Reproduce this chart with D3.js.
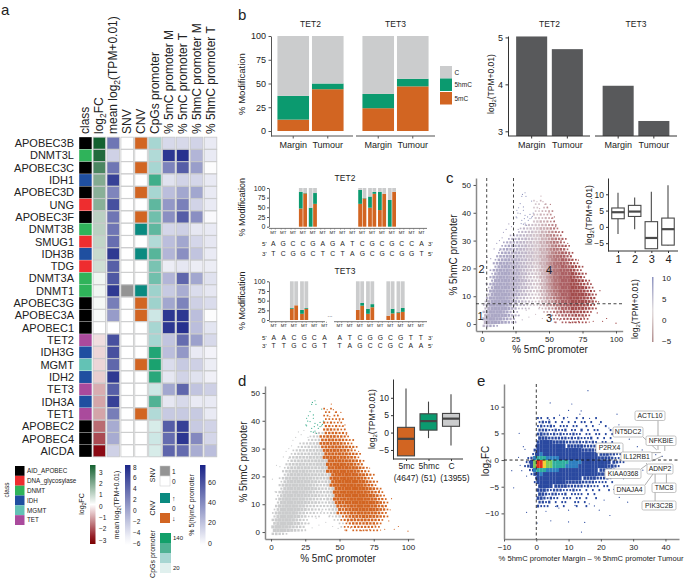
<!DOCTYPE html>
<html lang="en">
<head>
<meta charset="utf-8">
<title>TET / 5hmC figure</title>
<script src="https://d3js.org/d3.v7.min.js"></script>
<style>
  body { margin: 0; background: #fff; }
  text { font-family: "Liberation Sans", Arial, sans-serif; fill: #222; }
</style>
</head>
<body>
<svg id="fig" width="685" height="583"></svg>
<script>
// ---- panel a
const genes = ["APOBEC3B","DNMT3L","APOBEC3C","IDH1","APOBEC3D","UNG","APOBEC3F","DNMT3B","SMUG1","IDH3B","TDG","DNMT3A","DNMT1","APOBEC3G","APOBEC3A","APOBEC1","TET2","IDH3G","MGMT","IDH2","TET3","IDH3A","TET1","APOBEC2","APOBEC4","AICDA"];
const classNames = ["AID_APOBEC","DNA_glycosylase","DNMT","IDH","MGMT","TET"];
const classColors = ["#000000","#ee2d2f","#2fb35a","#1f4fa0","#63c2b5","#aa4a9c"];
const geneClass = [0,2,0,3,0,1,0,2,1,3,1,2,2,0,0,0,5,3,4,3,5,3,5,0,0,0];
const log2FC = [3.4,3.2,2.6,1.8,1.7,1.7,1.0,1.0,0.9,0.8,0.7,0.2,0.2,0.15,0.1,0,-0.4,-0.5,-0.5,-0.6,-1,-1.1,-1.1,-1.8,-2.2,-3];
const meanExpr = [3,-3,3,6.5,2,5.5,3,3,3.5,7,4.5,5,7,2.5,0.5,-6,5.5,5.5,4,7,4.5,6.5,2.5,-0.5,-0.5,-3];
const snv = [0,0,0,0,0,0,0,0,0,0,0,0,1,0,0,0,0,0,0,0,0,0,0,0,0,0];
const cnv = [-1,0,-1,0,-1,0,-1,1,0,1,0,0,1,-1,-1,0,0,0,-1,0,0,0,-1,0,0,0];
const cpgs = [50,45,50,110,50,90,80,90,45,95,75,80,55,55,30,50,50,130,135,125,30,100,45,25,30,25];
const mC_M = [13,68,42,10,22,35,38,14,22,25,6,25,18,30,68,68,20,22,12,8,30,8,18,55,50,52];
const mC_T = [13,70,55,15,30,43,55,16,30,38,8,52,28,42,68,70,50,35,18,15,52,13,18,65,68,50];
const hmC_M = [15,25,33,14,30,15,38,8,14,20,6,30,12,16,22,22,32,7,16,10,20,7,18,18,40,28];
const hmC_T = [7,7,1,7,7,7,2,7,8,7,6,10,8,12,1,9,13,4,6,5,16,7,7,15,14,22];
const headers = ["class","log2FC","mean log2(TPM+0.01)","SNV","CNV","CpGs promoter","% 5mC promoter M","% 5mC promoter T","% 5hmC promoter M","% 5hmC promoter T"];

// ---- panel b
const stackGroups = ["Margin","Tumour"];
const tet2_5mC = [12,44], tet2_5hmC = [25,6];
const tet3_5mC = [24,47], tet3_5hmC = [15,8];
const tet2_tpm = [5.02,4.75], tet3_tpm = [3.97,3.22];

// per CpG site: position, then margin and tumour values
const tet2Top = "AGCCGAGATCGCGCCA".split(""), tet2Bottom = "TCGGCTCTAGCGCGGT".split("");
const tet2Sites = [3,4,9,10,11,12];
const tet2M5mC = [47,0,59,49,43,0], tet2M5hmC = [43,49,36,29,47,69];
const tet2T5mC = [86,59,73,85,85,90], tet2T5hmC = [1,28,1,5,0,0];
const tet3Top = "AACGCAATCGGCGTT".split(""), tet3Bottom = "TTGCGTTAGCCGCAA".split("");
const tet3Pos = [0,1,2,3,4,5,6.5,7.5,8.5,9.5,10.5,11.5,12.5,13.5,14.5];
const tet3Sites = [2,3,8.5,9.5,11.5,12.5];
const tet3M5mC = [29,16,26,16,11,19], tet3M5hmC = [2,10,0,13,0,2];
const tet3T5mC = [38,29,37,33,17,21], tet3T5hmC = [0,2,7,8,12,10];

const promoterDensity = [
"00000 00000 00000 10100",
"00000 00000 00000 11010",
"00000 00000 00000 11011",
"00000 00000 00000 11111 1",
"00000 00000 00000 21211 1",
"00000 00000 00000 22121 1",
"00000 00000 00000 23322 11",
"00000 00000 00122 33332 21",
"00000 00000 01223 34443 321",
"00000 00000 12234 45544 3211",
"00000 00012 23344 55555 43210",
"00000 00122 33444 55665 54321",
"00000 01233 34445 56666 55421",
"00000 12343 44555 66666 65432 1",
"00000 23444 45555 66776 66543 1",
"00001 34455 55566 67777 76654 21",
"00002 44565 55566 67778 87765 32",
"00013 55666 65556 67788 88776 421",
"00024 66767 65555 56788 88877 5321",
"00025 77777 66555 46688 89887 65321",
"00136 77877 76554 45688 89988 76421",
"00147 88887 76543 45688 99998 87532 1",
"00257 88888 76543 34678 89999 88643 1",
"00268 88888 77543 33578 89999 98754 21",
"01378 88988 76544 34578 89999 98865 321",
"01489 88887 65543 33578 88999 99876 421",
"01589 98887 65433 24467 78899 99877 5321",
"02689 98886 54432 23457 67889 99988 6421",
"03789 99876 43322 22356 56788 99887 6432",
"14899 99865 33221 12345 45677 88877 6431",
"15899 99754 22211 11234 34566 77766 54210",
"26999 98643 11110 01123 23455 56655 43210",
"37999 97532 10000 00011 12344 45544 3210",
"48999 86532 10000 00001 11233 33433 2100",
"69998 75432 00000 00000 11112 22222 1100",
"89987 54321 00000 00000 01011 11111 10",
"34321"];
// expression level by x column for the colouring in c
const exprByCol = [4,5,6,6,6,6,6,6,5,5,5,4,4,3,3,2,2,1,1,0,-1,-2,-2,-3,-3,-3,-4,-4,-4,-4,-4,-4,-4,-4,-4,-4];
// first orange column for each row of the table, panel d
const orangeFromCol = [15,15,15,15,15,15,15,15,14,14,14,14,15,15,15,16,16,16,16,17,17,17,17,18,18,18,18,18,19,19,19,20,20,21,21,21,21];
const fringePts = [[88,12],[100,0.3],[90,1],[86,4],[83,1],[80,0.7],[69,0.7],[54,0.7],[49,1.3],[56,3.7],[64,2],[61,5],[76,2.5],[54,38.5],[54,37],[45.5,44],[48.7,42],[43,41.5],[20,36],[22,35],[16,33],[13,30],[13,26.5],[6.5,23.5],[3,14.5],[84,7],[82,9],[78,13],[75,15.5],[73,17],[70,21],[67,23],[65,25],[62,28],[59,30],[57,33],[55,35],[52,38],[50,40],[47,43],[41,44],[93,2],[72,1],[66,0.5],[58,1.5],[45,2],[40,3.5],[35,2.5],[30,1.5],[27,3],[33,5],[43,6],[37,7.5],[25,1],[1,19],[4,24],[9,27],[11,29],[15,31],[18,34],[24,36.5],[27,34],[51,43],[44,46],[60,33],[64,29],[72,23],[79,15],[87,8],[81,12]];
const hmcGroupPts = [[32.1,47.2],[30.2,46.6],[29.7,45.9],[32.8,45.9],[37,44.2],[28.5,43.3],[27.3,41.8],[26,40.9],[30.9,40.9],[30.9,42.1],[26.8,39.9],[28.5,39.7],[25.5,38.5],[32.1,39.1],[35.8,39.4],[38.2,39.9],[37.5,38.7],[34,38.5],[31.6,37.9],[29.7,37.3],[34.5,37.3],[32.1,36.3],[30.9,35.9],[33.3,35.5],[35.8,37.9],[37,38.2],[29.2,36.1],[26,38.2]];
// quartile tables of the inset boxes: low, q1, median, q3, high
const clusterNames = ["1","2","3","4"];
const clusterBoxes = [[-2.2,2.5,4.5,5.8,10.5],[-0.7,3.2,4.7,6.6,9],[-6.7,-6.7,-3.4,1.6,10.8],[-5.7,-5.6,-0.7,2.7,12.8]];
const modNames = ["5mc","5hmc","C"];
const modCounts = ["(4647)","(51)","(13955)"];
const modBoxes = [[-6.7,-6.7,-1.8,1.5,12.7],[-1.6,0.7,3.3,5.4,8.9],[-3.7,1.8,4,5.5,11]];

// ---- panel e, 1 x 0.75 density table: 1-4 blue, 5 light blue, 6 teal, 7 green, 8 yellow, 9 red
const maDensity = [
"00001 10101 00100 01010 00100",
"00001 21201 01010 10110 10010",
"00001 21121 01110 11001 01000 1",
"00002 22112 11201 10201 01100 01",
"00002 32212 12111 21101 10110 101",
"00003 33222 22212 12111 20101 01",
"00003 44443 33322 22212 12101 101",
"00014 44444 44433 33322 22121 1101",
"00024 44444 44444 44433 33222 2111",
"00134 54444 44444 44444 44433 32211",
"01256 66555 54444 44444 44433 33211",
"12479 98776 66665 55544 44444 44321 1",
"12479 98776 66655 55444 44444 43321",
"01256 66555 54444 44444 44433 33211",
"00134 54444 44444 44444 44433 32101",
"00024 44444 44444 44433 33222 21",
"00014 44444 44433 33322 22111 101",
"00003 44443 33322 22212 11101 1",
"00003 33212 22111 21101 01010 01",
"00003 32122 11201 11101 01",
"00003 32121 10111 01101 001",
"00002 21201 01100 11010",
"00002 11100 10100 01001"];
const maOutliers = [[16,13],[4.3,10.7],[11,10.5],[10,9.3],[13.9,9.2],[25,8.6],[-5.3,5],[-7.6,-2],[-7,-5.2],[-3,-9.8],[4.5,-11.4],[10,-11.6],[14,-13.5],[15,-11.7],[22.8,-10.4],[19.5,-9.4],[16.4,-8.2],[10,-9.4],[7,-9],[3,-9.6],[0.3,-11.8],[7.2,8.4],[8.5,7.7],[16.5,7.8],[13.5,8.6],[9.7,8],[4,7.6],[19.5,6.7],[22.5,6],[25.6,6.6],[26.7,4.5],[28.8,3.9],[31.3,2.5],[32.8,1.9],[37,1],[39,0.7],[-3.5,2],[-4,2.5],[-5,-1],[33,-1.9],[31.3,-3.1],[28.8,-5],[25.7,-7],[28.3,-7.9],[18,-8.6],[21,-7.5],[6,-8.7],[12,-8.5],[24,-5.5],[27,-3.5],[-5.5,0.5],[-4.5,-2],[-3,-3]];
const maLabels = ["ACTL10","NT5DC2","NFKBIE","P2RX4","IL12RB1","ADNP2","KIAA0368","DNAJA4","TMC8","PIK3C2B"];
const maTargetX = [37.7,37.3,39.8,38.6,39,34,34.4,37,40.3,36.8];
const maTargetY = [1.9,1.9,1.7,1.4,0.75,-0.6,-0.8,-1.9,-0.9,-1.6];

// ---- colours
const ORANGE = "#d26522", GREEN = "#0b9a6f", LIGHT = "#cbcccd", DARK = "#58595b", AXGREY = "#8a8a8a";
const fcColor = d3.scaleLinear().domain([-3,0,3.5]).range(["#8b0a14","#ffffff","#0d5c2a"]);
const meanColor = d3.scaleLinear().domain([-6,8]).range(["#ffffff","#1f2a8a"]);
const cpgColor = d3.scaleLinear().domain([20,50,90,140]).range(["#e0f0ee","#a7d6d2","#5fb79f","#12a06a"]);
const modColor = d3.scaleLinear().domain([0,70]).range(["#ffffff","#27318f"]);
const cnvColor = v => v > 0 ? "#0a8a80" : v < 0 ? ORANGE : "#ffffff";
const exprColor = d3.scaleLinear().domain([-5,2,12]).range(["#8b1616","#cdbcc4","#5562b0"]);
const maFill = ["none","#2a4aa0","#2a4aa0","#2a4aa0","#2a4aa0","#2f7fc0","#2fae9f","#7ccb5a","#f5d033","#e0301e"];
const maSide = [0,0.5,0.68,0.85,1,1,1,1,1,1];

const svg = d3.select("#fig");
const defs = svg.append("defs");
defs.append("filter").attr("id","soft").append("feGaussianBlur").attr("stdDeviation",0.5);

function label(x, y, str, size, anchor) {
  return svg.append("text").attr("x",x).attr("y",y).attr("font-size",size)
    .attr("text-anchor",anchor || "start").text(str);
}
function vlabel(x, y, str, size, anchor) {
  return svg.append("text").attr("transform","translate("+x+","+y+") rotate(-90)")
    .attr("font-size",size).attr("text-anchor",anchor || "middle").text(str);
}
// rotated text with a subscript 2, as in log2(...)
function subLabel(x, y, before, after, size, anchor) {
  const t = svg.append("text").attr("transform","translate("+x+","+y+") rotate(-90)")
    .attr("font-size",size).attr("text-anchor",anchor || "middle");
  t.append("tspan").text(before);
  t.append("tspan").attr("font-size",size*0.7).attr("dy",size*0.22).text("2");
  t.append("tspan").attr("dy",-size*0.22).text(after);
  return t;
}
function axis(gen, tx, ty, color, width, size) {
  const g = svg.append("g").attr("transform","translate("+tx+","+ty+")").call(gen);
  g.select(".domain").attr("stroke",color).attr("stroke-width",width);
  g.selectAll(".tick line").attr("stroke",color === AXGREY ? "#555" : color);
  g.selectAll(".tick text").attr("font-size",size).attr("fill","#222")
    .attr("font-family",'"Liberation Sans", Arial, sans-serif');
  return g;
}
function gradientBar(id, color, domain, x, y0, y1, w) {
  const grad = defs.append("linearGradient").attr("id",id).attr("x1",0).attr("x2",0).attr("y1",1).attr("y2",0);
  d3.range(11).forEach(i => {
    grad.append("stop").attr("offset",i/10).attr("stop-color",color(domain[0]+(domain[1]-domain[0])*i/10));
  });
  svg.append("rect").attr("x",x).attr("y",y0).attr("width",w).attr("height",y1-y0).attr("fill","url(#"+id+")");
}
const minusFmt = d => d < 0 ? "\u2212"+(-d) : d;

// panel letters
[["a",1,15],["b",238,20],["c",446,183],["d",238,386],["e",477,386]].forEach(d => label(d[1],d[2],d[0],15));

// ================= a: heatmap
const colX = d3.scaleBand().domain(headers).range([78.5,217.5]).paddingInner(0.1).paddingOuter(0.05);
const rowY = d3.scaleBand().domain(genes).range([136.8,457.2]).padding(0.03);
const columns = [
  { fill: (v,i) => classColors[geneClass[i]], vals: geneClass, border: false },
  { fill: v => fcColor(v), vals: log2FC },
  { fill: v => meanColor(v), vals: meanExpr },
  { fill: v => v ? "#949494" : "#fff", vals: snv },
  { fill: v => cnvColor(v), vals: cnv },
  { fill: v => cpgColor(v), vals: cpgs },
  { fill: v => modColor(v), vals: mC_M },
  { fill: v => modColor(v), vals: mC_T },
  { fill: v => modColor(v), vals: hmC_M },
  { fill: v => modColor(v), vals: hmC_T }
];
columns.forEach((c,ci) => {
  svg.append("g").selectAll("rect").data(c.vals).join("rect")
    .attr("x",colX(headers[ci])).attr("y",(d,i) => rowY(genes[i]))
    .attr("width",colX.bandwidth()).attr("height",rowY.bandwidth())
    .attr("fill",(d,i) => c.fill(d,i))
    .attr("stroke",c.border === false ? "none" : "#c6c7c8").attr("stroke-width",0.8);
});
svg.append("g").selectAll("text").data(genes).join("text")
  .attr("x",74).attr("y",d => rowY(d)+rowY.bandwidth()/2).attr("dy","0.36em")
  .attr("text-anchor","end").attr("font-size",11).text(d => d);
headers.forEach(h => {
  const x = colX(h)+colX.bandwidth()/2+4;
  if (h === "log2FC") subLabel(x,134,"log","FC",12,"start");
  else if (h.startsWith("mean")) subLabel(x,134,"mean log","(TPM+0.01)",12,"start");
  else vlabel(x,134,h,12,"start");
});

// a: legends
vlabel(9,490,"class",6.5);
const classY = d3.scaleBand().domain(classNames).range([466,525]);
svg.append("g").selectAll("rect").data(classNames).join("rect")
  .attr("x",15).attr("y",d => classY(d)).attr("width",9.5).attr("height",classY.bandwidth())
  .attr("fill",(d,i) => classColors[i]);
svg.append("g").selectAll("text").data(classNames).join("text")
  .attr("x",27).attr("y",d => classY(d)+classY.bandwidth()/2).attr("dy","0.36em")
  .attr("font-size",6.3).text(d => d);

gradientBar("gFc",fcColor,[-3.4,3.4],90,465,544,5.5);
const fcLeg = d3.scaleLinear().domain([-3,3]).range([540,472]);
axis(d3.axisRight(fcLeg).tickValues([-3,-2,-1,0,1,2,3]).tickSize(0).tickPadding(3).tickFormat(minusFmt),96,0,"none",0,6.5);
subLabel(84,504,"log","FC",7);

gradientBar("gMean",meanColor,[-6.5,8.2],125,465,545,5.5);
const meanLeg = d3.scaleLinear().domain([-6,8]).range([543,467]);
axis(d3.axisRight(meanLeg).tickValues([-6,-4,-2,0,2,4,6,8]).tickSize(0).tickPadding(2).tickFormat(minusFmt),131,0,"none",0,6.5);
subLabel(119,505,"mean log","(TPM+0.01)",7);

vlabel(155,475,"SNV",7);
[[466,"#949494"],[476,"#fff"]].forEach(d => svg.append("rect").attr("x",160).attr("y",d[0]).attr("width",10).attr("height",10)
  .attr("fill",d[1]).attr("stroke","#c6c7c8").attr("stroke-width",0.5));
label(172,473.5,"1",6.5); label(172,483.5,"0",6.5);
vlabel(155,508,"CNV",7);
[[1,493],[0,503],[-1,513]].forEach(d => svg.append("rect").attr("x",160).attr("y",d[1]).attr("width",10).attr("height",10)
  .attr("fill",cnvColor(d[0])));
label(172,500.5,"\u2191",7); label(172,510.5,"0",6.5); label(172,520.5,"\u2193",7);
vlabel(155,554,"CpGs promoter",7);
[[140,533],[100,543],[50,553],[20,563]].forEach(d => svg.append("rect").attr("x",160).attr("y",d[1]).attr("width",11).attr("height",10)
  .attr("fill",cpgColor(d[0])));
label(173,540,"140",6); label(173,570,"20",6);

gradientBar("gMod",modColor,[0,75],200,465,545,5.5);
const modLeg = d3.scaleLinear().domain([0,60]).range([543,482]);
axis(d3.axisRight(modLeg).tickValues([0,20,40,60]).tickSize(0).tickPadding(3),205,0,"none",0,7);
vlabel(194,505,"% 5(h)mC promoter",7);

// ================= b: stacked bars
const pctY = d3.scaleLinear().domain([-5.26,100]).range([136,36]);
[["TET2",tet2_5mC,tet2_5hmC,[274.5,346.5],[271,353]],["TET3",tet3_5mC,tet3_5hmC,[359.5,431.5],[356,435]]].forEach(f => {
  const x = d3.scaleBand().domain(stackGroups).range(f[3]).padding(0.085);
  stackGroups.forEach((g,i) => {
    const a = f[1][i], b = f[1][i]+f[2][i];
    [[0,a,ORANGE],[a,b,GREEN],[b,100,LIGHT]].forEach(s => {
      svg.append("rect").attr("x",x(g)).attr("width",x.bandwidth())
        .attr("y",pctY(s[1])).attr("height",pctY(s[0])-pctY(s[1])).attr("fill",s[2]);
    });
  });
  const gx = axis(d3.axisBottom(x).tickSize(2.5).tickSizeOuter(0).tickPadding(3),0,136,AXGREY,1.5,9);
  gx.select(".domain").attr("d","M"+f[4][0]+",0H"+f[4][1]);
  label((f[3][0]+f[3][1])/2,27,f[0],8.5,"middle");
});
axis(d3.axisLeft(pctY).tickValues([0,25,50,75,100]).tickSize(2.5).tickSizeOuter(0).tickPadding(2.5),271,0,"#555",1,9);
vlabel(245,84,"% Modification",9.5);
[["C",LIGHT,66],["5hmC",GREEN,78.5],["5mC",ORANGE,92]].forEach(d => {
  svg.append("rect").attr("x",440).attr("y",d[2]).attr("width",12).attr("height",12.5).attr("fill",d[1]);
  label(454.5,d[2]+8.5,d[0],6.5);
});

// b: TPM bars
const tpmY = d3.scaleLinear().domain([2.9,5.03]).range([136,36]);
[["TET2",tet2_tpm,[511.5,587.5],[509,590]],["TET3",tet3_tpm,[598,674],[595,677]]].forEach(f => {
  const x = d3.scaleBand().domain(stackGroups).range(f[2]).padding(0.13);
  svg.append("g").selectAll("rect").data(f[1]).join("rect")
    .attr("x",(d,i) => x(stackGroups[i])).attr("width",x.bandwidth())
    .attr("y",d => tpmY(d)).attr("height",d => tpmY(2.9)-tpmY(d)).attr("fill",DARK);
  const gx = axis(d3.axisBottom(x).tickSize(2.5).tickSizeOuter(0).tickPadding(3),0,136,"#333",1,9);
  gx.select(".domain").attr("d","M"+f[3][0]+",0H"+f[3][1]);
  label((f[2][0]+f[2][1])/2,27,f[0],8.5,"middle");
});
axis(d3.axisLeft(tpmY).tickValues([3,4,5]).tickFormat(d3.format("d")).tickSize(2.5).tickSizeOuter(0).tickPadding(2.5),508,0,"#333",1,9);
subLabel(494,84,"log","(TPM+0.01)",8.5);

// ================= b: per-site bars
function sitePanel(opt) {
  const y = d3.scaleLinear().domain([0,100]).range([opt.y0,opt.y100]);
  const pos = opt.xpos;
  const barW = 3.75;
  opt.sites.forEach((s,i) => {
    [[opt.m5mC[i],opt.mHm[i],-barW-0.3],[opt.t5mC[i],opt.tHm[i],0.3]].forEach(b => {
      const x = pos(s)+b[2];
      [[0,b[0],ORANGE],[b[0],b[0]+b[1],GREEN],[b[0]+b[1],100,LIGHT]].forEach(p => {
        svg.append("rect").attr("x",x).attr("width",barW)
          .attr("y",y(p[1])).attr("height",y(p[0])-y(p[1])).attr("fill",p[2]);
      });
    });
  });
  axis(d3.axisLeft(y).tickValues([0,25,50,75,100]).tickSize(2).tickSizeOuter(0).tickPadding(1.5),269,0,"#555",0.8,7);
  opt.segments.forEach(s => svg.append("line").attr("x1",s[0]).attr("x2",s[1])
    .attr("y1",opt.y0+1.7).attr("y2",opt.y0+1.7).attr("stroke","#666").attr("stroke-width",0.9));
  opt.marks.forEach(k => {
    label(pos(k),opt.y0+7,"MT",4.4,"middle");
    [-2,2].forEach(d => svg.append("line").attr("x1",pos(k)+d).attr("x2",pos(k)+d)
      .attr("y1",opt.y0+1.7).attr("y2",opt.y0+3).attr("stroke","#666").attr("stroke-width",0.5));
  });
  label(345,opt.titleY,opt.title,8.5,"middle");
  vlabel(245,(opt.y0+opt.y100)/2,"% Modification",9);
  opt.top.forEach((c,i) => label(pos(opt.marks[i]),opt.seqY,c,6.8,"middle"));
  opt.bottom.forEach((c,i) => label(pos(opt.marks[i]),opt.seqY+opt.seqGap,c,6.8,"middle"));
  label(262,opt.seqY,"5'",6.2); label(262,opt.seqY+opt.seqGap,"3'",6.2);
  label(428,opt.seqY,"3'",6.2); label(428,opt.seqY+opt.seqGap,"5'",6.2);
}
sitePanel({ title:"TET2", titleY:181, y0:226.7, y100:188, seqY:246, seqGap:9.5,
  xpos:d3.scaleLinear().domain([0,15]).range([273.3,421.6]),
  sites:tet2Sites, m5mC:tet2M5mC, mHm:tet2M5hmC, t5mC:tet2T5mC, tHm:tet2T5hmC,
  segments:[[269,427]], marks:d3.range(16), top:tet2Top, bottom:tet2Bottom });
sitePanel({ title:"TET3", titleY:274, y0:320, y100:281.3, seqY:339.5, seqGap:8.5,
  xpos:d3.scaleLinear().domain([0,14.5]).range([273.7,420.9]),
  sites:tet3Sites, m5mC:tet3M5mC, mHm:tet3M5hmC, t5mC:tet3T5mC, tHm:tet3T5hmC,
  segments:[[269,325],[334,427]], marks:tet3Pos, top:tet3Top, bottom:tet3Bottom });
label(330,317,"...",6,"middle");

// ================= c and d: shared cloud, table cells drawn as halftone squares
function cloud(g, x, y, cellFill) {
  const cells = [];
  promoterDensity.forEach((row,r) => {
    row.replace(/ /g,"").split("").forEach((ch,c) => {
      if (ch !== "0") cells.push({ r:r, c:c, n:+ch, x0:c*2.5, y0:43.75-r*1.25 });
    });
  });
  const w = x(2.5)-x(0), h = y(0)-y(1.25);
  const side = n => Math.pow(n/9,0.35);
  g.selectAll("rect").data(cells).join("rect")
    .attr("x",d => x(d.x0)+(d.r%2)*w/2+w/2-w*side(d.n)/2)
    .attr("y",d => y(d.y0+1.25)+h/2-h*side(d.n)/2)
    .attr("width",d => w*side(d.n)+0.1)
    .attr("height",d => h*side(d.n)+0.1)
    .attr("fill",cellFill);
}
function dots(parent, pts, x, y, fill) {
  parent.append("g").selectAll("circle").data(pts).join("circle")
    .attr("cx",d => x(d[0])).attr("cy",d => y(d[1])).attr("r",0.6).attr("fill",fill);
}
const col = v => Math.min(35,Math.floor(v/2.5));

// c
const cX = d3.scaleLinear().domain([-4.5,105]).range([476,622.7]);
const cY = d3.scaleLinear().domain([-2.5,52.5]).range([331,178]);
cloud(svg.append("g").attr("filter","url(#soft)").attr("opacity",0.85),cX,cY,d => exprColor(exprByCol[d.c]));
dots(svg,fringePts,cX,cY,d => exprColor(exprByCol[col(d[0])]));
dots(svg,hmcGroupPts,cX,cY,"#8f94bd");
axis(d3.axisBottom(cX).tickValues([0,25,50,75,100]).tickSize(2.5).tickSizeOuter(0).tickPadding(3),0,331,AXGREY,1.5,8);
axis(d3.axisLeft(cY).tickValues([0,10,20,30,40,50]).tickSize(2.5).tickSizeOuter(0).tickPadding(2.5),476,0,AXGREY,1.5,8);
label(550,353,"% 5mC promoter",10,"middle");
vlabel(457,255,"% 5hmC promoter",10);
[[3.5],[23.5]].forEach(d => svg.append("line").attr("x1",cX(d[0])).attr("x2",cX(d[0])).attr("y1",178).attr("y2",331)
  .attr("stroke","#333").attr("stroke-width",0.9).attr("stroke-dasharray","3,2.5"));
svg.append("line").attr("x1",476).attr("x2",623).attr("y1",cY(7.3)).attr("y2",cY(7.3))
  .attr("stroke","#333").attr("stroke-width",0.9).attr("stroke-dasharray","3,2.5");
[["1",480.5,320],["2",481.5,273],["3",549,322],["4",549,274]].forEach(d => label(d[1],d[2],d[0],11,"middle"));

function boxPlot(boxes, names, x, y, bw, fills, stroke) {
  names.forEach((n,i) => {
    const b = boxes[i], cx = x(n);
    svg.append("line").attr("x1",cx).attr("x2",cx).attr("y1",y(b[0])).attr("y2",y(b[4]))
      .attr("stroke",stroke).attr("stroke-width",1.1);
    svg.append("rect").attr("x",cx-bw/2).attr("width",bw).attr("y",y(b[3])).attr("height",y(b[1])-y(b[3]))
      .attr("fill",fills[i]).attr("stroke",stroke).attr("stroke-width",1.1);
    svg.append("line").attr("x1",cx-bw/2).attr("x2",cx+bw/2).attr("y1",y(b[2])).attr("y2",y(b[2]))
      .attr("stroke",stroke).attr("stroke-width",2.2);
  });
}
// c inset
const ciX = d3.scalePoint().domain(clusterNames).range([618,668]);
const ciY = d3.scaleLinear().domain([-7.4,15]).range([251,178]);
boxPlot(clusterBoxes,clusterNames,ciX,ciY,12.5,["#fff","#fff","#fff","#fff"],"#4a4a4a");
axis(d3.axisLeft(ciY).tickValues([-5,0,5,10]).tickSize(2).tickSizeOuter(0).tickPadding(2).tickFormat(minusFmt),608,0,"#333",1,8.5);
const ciAx = axis(d3.axisBottom(ciX).tickSize(2).tickPadding(2),0,251,"#333",1,11);
ciAx.select(".domain").attr("d","M608,0H678");
subLabel(592,215,"log","(TPM+0.01)",8.5);
// c colourbar
gradientBar("gExpr",d3.scaleLinear().domain([-5,2,10]).range(["#b08c8c","#e6e0e0","#8c92c0"]),[-5,10],652,277,342,1.5);
const cbY = d3.scaleLinear().domain([-5,10]).range([341,278]);
axis(d3.axisRight(cbY).tickValues([-5,0,5,10]).tickSize(0).tickPadding(7).tickFormat(minusFmt),655,0,"none",0,8);
subLabel(638,309,"log","(TPM+0.01)",8.5);

// d
const dX = d3.scaleLinear().domain([-4.4,104.4]).range([265,414]);
const dY = d3.scaleLinear().domain([-2.5,52.5]).range([539,386]);
cloud(svg.append("g").attr("filter","url(#soft)"),dX,dY,d => d.c >= orangeFromCol[d.r] ? ORANGE : LIGHT);
dots(svg,fringePts,dX,dY,d => {
  const r = Math.max(0,Math.min(36,Math.floor((43.75-d[1])/1.25)+1));
  return col(d[0]) >= orangeFromCol[r] ? ORANGE : LIGHT;
});
dots(svg,hmcGroupPts,dX,dY,"#2fa886");
axis(d3.axisBottom(dX).tickValues([0,25,50,75,100]).tickSize(2.5).tickSizeOuter(0).tickPadding(3),0,539,AXGREY,1.5,8);
axis(d3.axisLeft(dY).tickValues([0,10,20,30,40,50]).tickSize(2.5).tickSizeOuter(0).tickPadding(2.5),265,0,AXGREY,1.5,8);
label(338,562,"% 5mC promoter",10,"middle");
vlabel(247,462,"% 5hmC promoter",10);
// d inset
const diX = d3.scalePoint().domain(modNames).range([406,451]);
const diY = d3.scaleLinear().domain([-7.6,15.4]).range([459,379]);
boxPlot(modBoxes,modNames,diX,diY,17,[ORANGE,GREEN,LIGHT],"#444");
axis(d3.axisLeft(diY).tickValues([-5,0,5,10]).tickSize(2).tickSizeOuter(0).tickPadding(2).tickFormat(minusFmt),393,0,"#333",1,8.5);
const diAx = axis(d3.axisBottom(diX).tickSize(2).tickPadding(2),0,459,"#333",1,8.5);
diAx.select(".domain").attr("d","M393,0H463");
modNames.forEach((n,i) => label(diX(n)+(i === 2 ? 4 : 0),481,modCounts[i],8.5,"middle"));
subLabel(375,419,"log","(TPM+0.01)",8.5);

// ================= e
const eX = d3.scaleLinear().domain([-10,44.2]).range([504,679]);
const eY = d3.scaleLinear().domain([-14.8,14.25]).range([539,384]);
const maCells = [];
maDensity.forEach((row,r) => {
  row.replace(/ /g,"").split("").forEach((ch,c) => {
    if (ch !== "0") maCells.push({ r:r, n:+ch, x0:c-4, y0:7.5-r*0.75 });
  });
});
const eW = eX(1)-eX(0), eH = eY(0)-eY(0.75);
svg.append("g").attr("filter","url(#soft)").selectAll("rect").data(maCells).join("rect")
  .attr("x",d => eX(d.x0)+(d.n < 4 ? (d.r%2)*eW/2 : 0)+eW/2-eW*maSide[d.n]/2)
  .attr("y",d => eY(d.y0+0.75)+eH/2-eH*maSide[d.n]/2)
  .attr("width",d => eW*maSide[d.n]+0.1)
  .attr("height",d => eH*maSide[d.n]+0.1)
  .attr("fill",d => maFill[d.n]);
dots(svg,maOutliers,eX,eY,"#2a4aa0");
axis(d3.axisBottom(eX).tickValues([-10,0,10,20,30,40]).tickSize(2.5).tickSizeOuter(0).tickPadding(3).tickFormat(minusFmt),0,539,AXGREY,1.5,8);
axis(d3.axisLeft(eY).tickValues([-10,-5,0,5,10]).tickSize(2.5).tickSizeOuter(0).tickPadding(2.5).tickFormat(minusFmt),504,0,AXGREY,1.5,8);
svg.append("line").attr("x1",eX(0)).attr("x2",eX(0)).attr("y1",384).attr("y2",539)
  .attr("stroke","#222").attr("stroke-width",0.9).attr("stroke-dasharray","3,2.5");
svg.append("line").attr("x1",504).attr("x2",679).attr("y1",eY(0)).attr("y2",eY(0))
  .attr("stroke","#111").attr("stroke-width",0.9).attr("stroke-dasharray","3,2.5");
subLabel(489,461,"log","FC",10);
label(591,561,"% 5hmC promoter Margin \u2013 % 5hmC promoter Tumour",7.6,"middle");
// label boxes: left, top, right, bottom in page pixels
const boxes = [[635,411,665,420.5],[613,427,643,437],[646,436,676,445.5],[596,443,623,453],[621,452,652,461],[647,464,673,474],[605,469,641,478.5],[614,485,645,494.5],[652,483,676,492.5],[642,501,676,510]];
maLabels.forEach((n,i) => {
  const b = boxes[i];
  const ax = Math.max(b[0],Math.min(b[2],eX(maTargetX[i]))), ay = eY(maTargetY[i]) < b[1] ? b[1] : b[3];
  svg.append("line").attr("x1",ax).attr("y1",ay).attr("x2",eX(maTargetX[i])).attr("y2",eY(maTargetY[i]))
    .attr("stroke","#777").attr("stroke-width",0.6);
});
maLabels.forEach((n,i) => {
  const b = boxes[i];
  svg.append("rect").attr("x",b[0]).attr("y",b[1]).attr("width",b[2]-b[0]).attr("height",b[3]-b[1])
    .attr("rx",1.5).attr("fill","#fff").attr("stroke","#aaa").attr("stroke-width",0.7);
  label((b[0]+b[2])/2,(b[1]+b[3])/2+2.4,n,6.8,"middle");
});
</script>
</body>
</html>
